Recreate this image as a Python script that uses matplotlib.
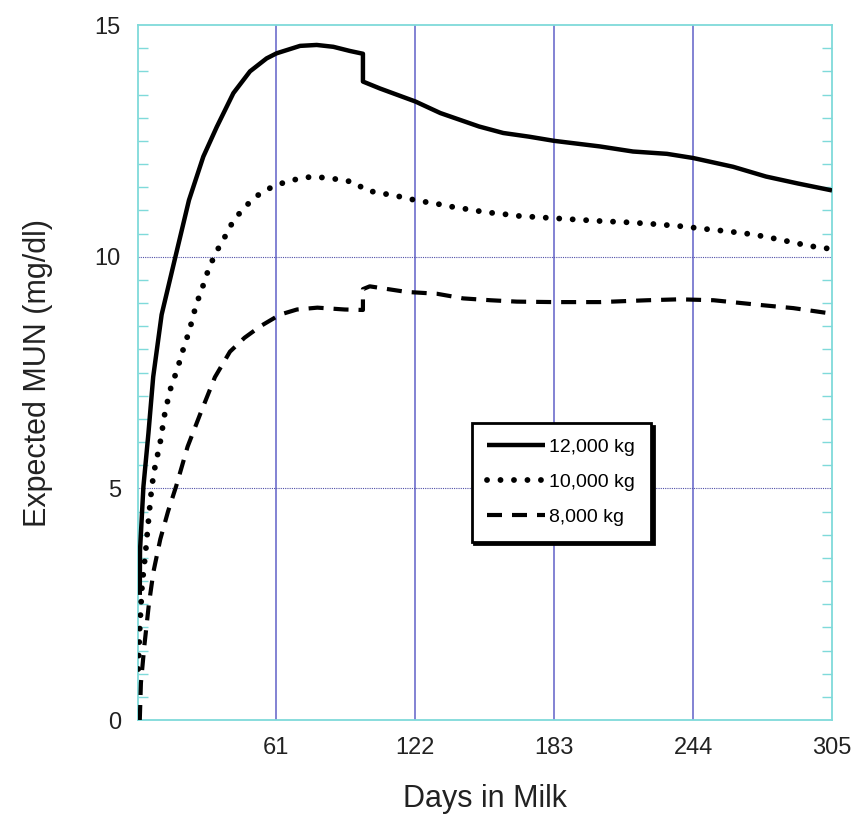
import numpy as np
import matplotlib
matplotlib.use("Agg")
import matplotlib.pyplot as plt
from matplotlib.ticker import MultipleLocator

plt.rcParams['font.family'] = ['Liberation Sans', 'DejaVu Sans']

# expected MUN curves over the lactation, one per herd production level
days_12k = [1.0, 1.1, 2.6, 4.8, 6.9, 10.6, 16.9, 22.6, 28.9, 34.8, 42.1, 49.4, 56.7, 61.1,
            71.4, 78.7, 86.0, 93.3, 99.0, 99.0, 106.5, 122.0, 133.0, 150.0, 160.6, 172.0,
            183.0, 203.0, 217.6, 232.5, 244.0, 261.6, 276.0, 290.0, 305.0]
mun_12k = [2.7, 3.66, 5.04, 6.19, 7.41, 8.75, 10.05, 11.22, 12.16, 12.8, 13.53, 14.0, 14.28, 14.39,
           14.55, 14.57, 14.53, 14.44, 14.38, 13.78, 13.63, 13.35, 13.1, 12.81, 12.67, 12.59,
           12.5, 12.38, 12.27, 12.22, 12.13, 11.94, 11.73, 11.58, 11.43]

days_10k = [0.3, 1.0, 2.0, 3.5, 5.0, 6.3, 7.7, 9.9, 12.0, 14.3, 16.9, 18.7, 20.9, 22.7, 24.2,
            26.0, 28.2, 30.0, 32.6, 35.5, 39.2, 42.0, 47.2, 53.0, 59.2, 65.5, 71.4, 77.2,
            84.5, 89.7, 95.5, 100.0, 106.5, 112.3, 118.2, 124.0, 130.7, 136.5, 143.0, 149.0,
            154.8, 160.7, 167.2, 183.0, 203.0, 216.0, 228.0, 240.4, 247.0, 258.8, 270.4,
            282.0, 289.5, 295.3, 302.7, 305.0]
mun_10k = [1.1, 2.0, 2.9, 3.6, 4.4, 5.05, 5.47, 5.97, 6.62, 7.12, 7.49, 7.77, 8.14, 8.38, 8.68,
           9.0, 9.28, 9.57, 9.89, 10.18, 10.5, 10.77, 11.08, 11.33, 11.51, 11.62, 11.69, 11.73,
           11.69, 11.66, 11.6, 11.44, 11.37, 11.33, 11.26, 11.2, 11.15, 11.09, 11.04, 10.99,
           10.95, 10.92, 10.88, 10.83, 10.77, 10.74, 10.7, 10.65, 10.61, 10.55, 10.48,
           10.37, 10.29, 10.23, 10.18, 10.15]

days_8k = [1.0, 1.5, 3.0, 5.0, 7.0, 10.0, 13.4, 17.0, 22.0, 27.5, 34.0, 40.6, 47.0, 54.0,
           62.6, 70.0, 79.0, 91.0, 99.0, 99.0, 102.0, 118.0, 131.5, 143.0, 155.0, 166.6,
           183.0, 203.0, 224.0, 238.0, 253.0, 273.0, 288.0, 305.0]
mun_8k = [0.0, 0.8, 1.6, 2.5, 3.2, 3.9, 4.5, 5.05, 5.9, 6.6, 7.4, 7.95, 8.25, 8.5,
          8.75, 8.86, 8.9, 8.86, 8.85, 9.3, 9.36, 9.24, 9.2, 9.1, 9.06, 9.03,
          9.02, 9.02, 9.06, 9.08, 9.06, 8.96, 8.89, 8.77]

day_ticks = [61, 122, 183, 244, 305]
mun_ticks = [0, 5, 10, 15]

spine_col = '#7fdada'
grid_col = '#7878d0'

fig = plt.figure(figsize=(8.53, 8.18), dpi=100)
ax = fig.add_axes([0.1612, 0.1198, 0.8142, 0.8496])

l1, = ax.plot(days_12k, mun_12k, color='black', lw=3.2, solid_capstyle='butt',
              solid_joinstyle='round', label='12,000 kg', zorder=3)
l2, = ax.plot(days_10k, mun_10k, color='black', lw=4.2, linestyle=(0, (0.01, 2.3)),
              dash_capstyle='round', label='10,000 kg', zorder=3)
l3, = ax.plot(days_8k, mun_8k, color='black', lw=3.0, linestyle=(0, (3.6, 2.4)),
              dash_capstyle='butt', label='8,000 kg', zorder=3)

ax.set_xlim(0, 305)
ax.set_ylim(0, 15)

# vertical solid grid, horizontal dotted grid
for d in day_ticks[:-1]:
    ax.axvline(d, color=grid_col, lw=1.3, zorder=1)
for m in [5, 10]:
    ax.axhline(m, color='#5050a8', lw=0.8, linestyle=(0, (1, 1)), zorder=1)

for s in ax.spines.values():
    s.set_color(spine_col)
    s.set_linewidth(1.3)

ax.set_xticks(day_ticks)
ax.set_yticks(mun_ticks)
ax.yaxis.set_minor_locator(MultipleLocator(0.5))
ax.tick_params(axis='x', length=0, pad=12, labelsize=17, labelcolor='#222222')
ax.tick_params(axis='y', which='major', length=0, pad=12, labelsize=17,
               labelcolor='#222222')
ax.tick_params(axis='y', which='minor', direction='in', length=7, width=1,
               color=spine_col, left=True, right=True)

ax.set_xlabel('Days in Milk', fontsize=22, labelpad=18, color='#222222')
ax.set_ylabel('Expected MUN (mg/dl)', fontsize=22, labelpad=30, color='#222222')

leg = ax.legend(handles=[l1, l2, l3], loc='lower left', bbox_to_anchor=(0.481, 0.2566),
                fontsize=14, handlelength=3.0, handletextpad=0.2, labelspacing=0.9,
                borderpad=0.8, borderaxespad=0, fancybox=False, framealpha=1,
                shadow={'color': 'black', 'alpha': 1})
leg.get_frame().set_edgecolor('black')
leg.get_frame().set_linewidth(2)
leg.set_zorder(5)

fig.savefig('out.png', dpi=100)
